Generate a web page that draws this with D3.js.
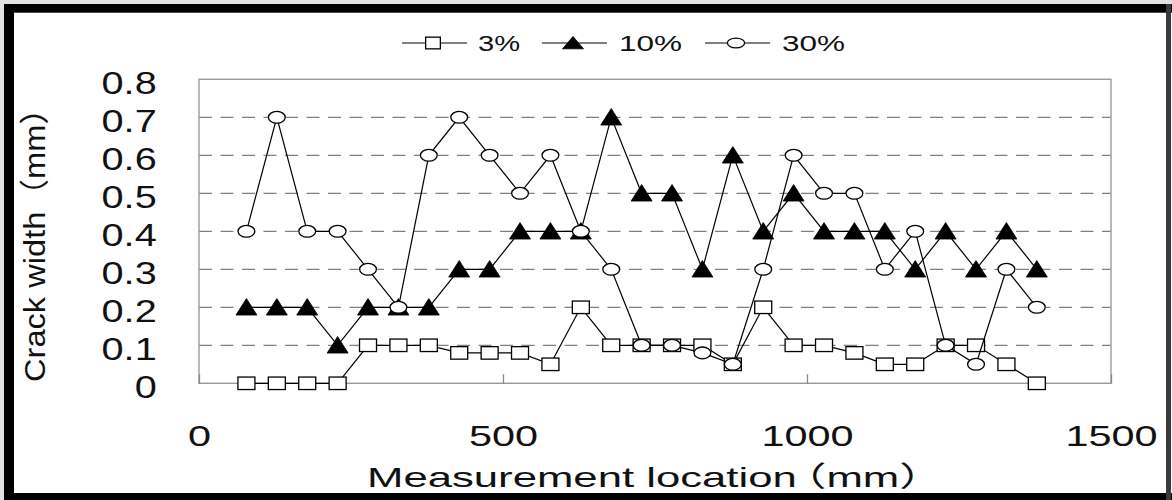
<!DOCTYPE html>
<html>
<head>
<meta charset="utf-8">
<script src="https://cdn.jsdelivr.net/npm/d3@7/dist/d3.min.js"></script>
<style>
  html, body { margin: 0; padding: 0; background: #e2e2e2; }
  svg { display: block; }
  text { font-family: "Liberation Sans", Arial, "Noto Sans CJK JP", sans-serif; fill: #111; }
</style>
</head>
<body>
<div id="chart"></div>
<script>
// measurement locations along the specimen (mm)
const locations = [78, 128, 178, 228, 278, 328, 378, 428, 478, 528, 578, 628, 678, 728,
    778, 828, 878, 928, 978, 1028, 1078, 1128, 1178, 1228, 1278, 1328, 1378];

// crack width (mm) for each ratio
const crack3 = [0, 0, 0, 0, 0.1, 0.1, 0.1, 0.08, 0.08, 0.08, 0.05, 0.2, 0.1, 0.1,
    0.1, 0.1, 0.05, 0.2, 0.1, 0.1, 0.08, 0.05, 0.05, 0.1, 0.1, 0.05, 0];
const crack10 = [0.2, 0.2, 0.2, 0.1, 0.2, 0.2, 0.2, 0.3, 0.3, 0.4, 0.4, 0.4, 0.7, 0.5,
    0.5, 0.3, 0.6, 0.4, 0.5, 0.4, 0.4, 0.4, 0.3, 0.4, 0.3, 0.4, 0.3];
const crack30 = [0.4, 0.7, 0.4, 0.4, 0.3, 0.2, 0.6, 0.7, 0.6, 0.5, 0.6, 0.4, 0.3, 0.1,
    0.1, 0.08, 0.05, 0.3, 0.6, 0.5, 0.5, 0.3, 0.4, 0.1, 0.05, 0.3, 0.2];

const seriesNames = ['3%', '10%', '30%'];
const seriesShapes = ['square', 'triangle', 'circle'];

const xTicks = [0, 500, 1000, 1500];
const yTicks = [0, 0.1, 0.2, 0.3, 0.4, 0.5, 0.6, 0.7, 0.8];
const yTickLabels = ['0', '0.1', '0.2', '0.3', '0.4', '0.5', '0.6', '0.7', '0.8'];

// title pieces: the brackets are full-width
const xTitleParts = ['Measurement location', '（', 'mm', '）'];
const yTitleParts = ['Crack width', '（', 'mm', '）'];

// build series objects for binding
const seriesValues = [crack3, crack10, crack30];
const series = seriesNames.map((name, i) => ({
    name: name,
    shape: seriesShapes[i],
    points: locations.map((x, j) => ({x: x, y: seriesValues[i][j]}))
}));

const W = 1172, H = 500;
const margin = {top: 79.3, right: 61, bottom: 116.7, left: 199};
const width = W - margin.left - margin.right;
const height = H - margin.top - margin.bottom;

const svg = d3.select('#chart').append('svg')
    .attr('width', W)
    .attr('height', H);

// white sheet with the heavy outer frame
svg.append('rect').attr('x', 4).attr('y', 4).attr('width', W - 4).attr('height', H - 4).attr('fill', '#fff');
svg.append('rect').attr('x', 4).attr('y', 4).attr('width', W - 4).attr('height', 8.7).attr('fill', '#000');
svg.append('rect').attr('x', 4).attr('y', 4).attr('width', 10).attr('height', H - 4).attr('fill', '#000');
svg.append('rect').attr('x', 4).attr('y', 493).attr('width', W - 4).attr('height', 7).attr('fill', '#000');
svg.append('rect').attr('x', 1166).attr('y', 4).attr('width', 5).attr('height', H - 4).attr('fill', '#3a3a3a');

const chart = svg.append('g')
    .attr('transform', `translate(${margin.left},${margin.top})`);

const xScale = d3.scaleLinear().domain([0, 1500]).range([0, width]);
const yScale = d3.scaleLinear().domain([0, 0.8]).range([height, 0]);

// dashed horizontal gridlines
chart.append('g')
    .selectAll('line')
    .data(yTicks.filter(d => d > 0 && d < 0.8))
    .join('line')
    .attr('x1', 0)
    .attr('x2', width)
    .attr('y1', d => yScale(d))
    .attr('y2', d => yScale(d))
    .attr('stroke', '#808080')
    .attr('stroke-width', 1.3)
    .attr('stroke-dasharray', '13,8.5');

// plot frame
chart.append('rect')
    .attr('width', width)
    .attr('height', height)
    .attr('fill', 'none')
    .attr('stroke', '#9a9a9a')
    .attr('stroke-width', 1.4);

// x axis: inner ticks, stretched labels
const xAxis = d3.axisBottom(xScale)
    .tickValues(xTicks)
    .tickSize(-9)
    .tickFormat(d3.format('d'));

const xAxisG = chart.append('g')
    .attr('transform', `translate(0,${height})`)
    .call(xAxis);
xAxisG.select('.domain').remove();
xAxisG.selectAll('.tick line').attr('stroke', '#8a8a8a').attr('stroke-width', 1.3);
xAxisG.selectAll('.tick text')
    .attr('y', 62.7)
    .attr('dy', null)
    .attr('fill', '#111')
    .style('font-size', '30px')
    .attr('transform', 'scale(1.38,1)');

// y axis labels
const yAxis = d3.axisLeft(yScale)
    .tickValues(yTicks)
    .tickSize(0)
    .tickFormat((d, i) => yTickLabels[i]);

const yAxisG = chart.append('g').call(yAxis);
yAxisG.select('.domain').remove();
yAxisG.selectAll('.tick text')
    .attr('x', -42.3 / 1.28)
    .attr('y', 13.8)
    .attr('dy', null)
    .attr('fill', '#111')
    .style('font-size', '31px')
    .attr('transform', 'scale(1.28,1)');

// axis titles
function titleText(sel, parts, bracketShift) {
    parts.forEach((p, i) => {
        const t = sel.append('tspan').text(p);
        if (i === 1) t.attr('dx', bracketShift);
    });
}

const xTitleText = svg.append('text')
    .attr('x', 655)
    .attr('y', 487)
    .attr('text-anchor', 'middle')
    .attr('textLength', 576)
    .attr('lengthAdjust', 'spacingAndGlyphs')
    .style('font-size', '28px');
titleText(xTitleText, xTitleParts, -9);

const yTitleText = svg.append('text')
    .attr('transform', 'translate(45,237) rotate(-90)')
    .attr('text-anchor', 'middle')
    .attr('textLength', 290)
    .attr('lengthAdjust', 'spacingAndGlyphs')
    .style('font-size', '30px');
titleText(yTitleText, yTitleParts, 0);

// marker drawing
function drawMarker(sel, shape, w, h) {
    if (shape === 'square') {
        sel.append('rect')
            .attr('x', -w / 2).attr('y', -h / 2)
            .attr('width', w).attr('height', h)
            .attr('fill', '#fff').attr('stroke', '#000').attr('stroke-width', 1.3);
    } else if (shape === 'triangle') {
        sel.append('path')
            .attr('d', `M0,${-h * 0.53}L${w / 2},${h * 0.47}L${-w / 2},${h * 0.47}Z`)
            .attr('fill', '#000').attr('stroke', '#000').attr('stroke-width', 0.8);
    } else {
        sel.append('ellipse')
            .attr('rx', w / 2).attr('ry', h / 2)
            .attr('fill', '#fff').attr('stroke', '#000').attr('stroke-width', 1.3);
    }
}

const markerSize = {square: [17, 12.5], triangle: [21, 16.5], circle: [16.8, 11.8]};

const line = d3.line()
    .x(d => xScale(d.x))
    .y(d => yScale(d.y));

series.forEach(s => {
    const g = chart.append('g').attr('class', 'series');
    g.append('path')
        .datum(s.points)
        .attr('d', line)
        .attr('fill', 'none')
        .attr('stroke', '#000')
        .attr('stroke-width', 1.2);
    g.selectAll('.marker')
        .data(s.points)
        .join('g')
        .attr('class', 'marker')
        .attr('transform', d => `translate(${xScale(d.x)},${yScale(d.y)})`)
        .each(function () {
            drawMarker(d3.select(this), s.shape, markerSize[s.shape][0], markerSize[s.shape][1]);
        });
});

// legend across the top
const legendX = [402, 542, 705];
const legendText = [[478, 42], [619, 63], [782, 63]];
const legendMarker = {square: [14.7, 11.7], triangle: [21, 12.4], circle: [17.2, 9.8]};

const legend = svg.append('g').attr('transform', 'translate(0,43)');
series.forEach((s, i) => {
    const item = legend.append('g');
    item.append('line')
        .attr('x1', legendX[i]).attr('x2', legendX[i] + 65)
        .attr('y1', 0).attr('y2', 0)
        .attr('stroke', '#000').attr('stroke-width', 1.2);
    const m = item.append('g').attr('transform', `translate(${legendX[i] + 31},0)`);
    drawMarker(m, s.shape, legendMarker[s.shape][0], legendMarker[s.shape][1]);
    item.append('text')
        .attr('x', legendText[i][0])
        .attr('y', 8)
        .attr('textLength', legendText[i][1])
        .attr('lengthAdjust', 'spacingAndGlyphs')
        .style('font-size', '22px')
        .text(s.name);
});
</script>
</body>
</html>
